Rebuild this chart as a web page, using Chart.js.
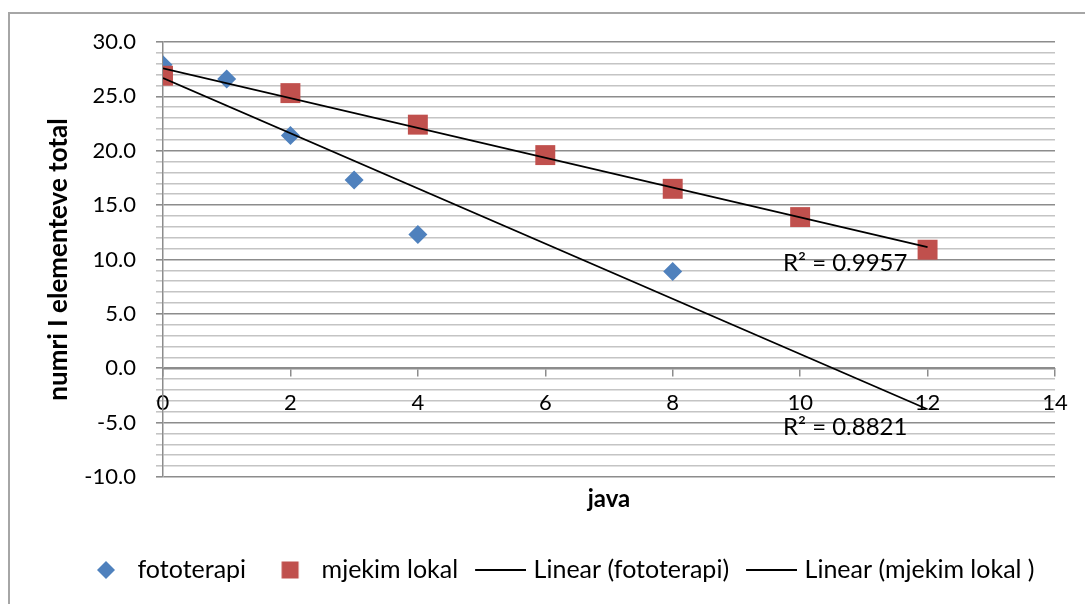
<!DOCTYPE html>
<html>
<head>
<meta charset="utf-8">
<title>numri I elementeve total</title>
<script src="https://cdn.jsdelivr.net/npm/chart.js@4/dist/chart.umd.min.js"></script>
<style>
  html, body { margin: 0; padding: 0; background: #ffffff; overflow: hidden; }
  #wrap { position: relative; width: 1085px; height: 604px; }
  #frame {
    position: absolute; left: 8px; top: 12px; width: 1200px; height: 800px;
    border: 2px solid #a6a6a6; pointer-events: none;
  }
  canvas { position: absolute; left: 0; top: 0; }
</style>
</head>
<body>
<div id="wrap">
  <canvas id="chart" width="1085" height="604"></canvas>
  <div id="frame"></div>
</div>
<script>
// Weeks (java) and total element counts for each treatment
const weeksFototerapi = [0, 1, 2, 3, 4, 8];
const fototerapi      = [27.9, 26.6, 21.4, 17.3, 12.3, 8.9];

const weeksLokal = [0, 2, 4, 6, 8, 10, 12];
const mjekimLokal = [26.9, 25.3, 22.4, 19.6, 16.5, 13.9, 10.9];

// Range covered by the linear trend lines
const trendSpan = [0, 12];

const seriesNames = ['fototerapi', 'mjekim lokal', 'Linear (fototerapi)', 'Linear (mjekim lokal )'];
const rSquaredTexts = ['R\u00B2 = 0.9957', 'R\u00B2 = 0.8821'];

const yTicksMin = -10, yTicksMax = 30;
const xTicksMin = 0, xTicksMax = 14;

const BLUE = '#4F81BD';
const RED = '#C0504D';
const FONT = 'Lato, "Open Sans", sans-serif';

// Ordinary least squares fit y = a + b x
function linearFit(xs, ys) {
  const n = xs.length;
  const mx = xs.reduce((s, v) => s + v, 0) / n;
  const my = ys.reduce((s, v) => s + v, 0) / n;
  let sxy = 0, sxx = 0;
  for (let i = 0; i < n; i++) {
    sxy += (xs[i] - mx) * (ys[i] - my);
    sxx += (xs[i] - mx) * (xs[i] - mx);
  }
  const b = sxy / sxx;
  return { a: my - b * mx, b };
}

function toPoints(xs, ys) { return xs.map((x, i) => ({ x, y: ys[i] })); }
function trendPoints(fit) { return trendSpan.map(x => ({ x, y: fit.a + fit.b * x })); }

const fitFoto = linearFit(weeksFototerapi, fototerapi);
const fitLokal = linearFit(weeksLokal, mjekimLokal);

// Small canvases used as legend symbols
function legendSymbol(kind, color) {
  const c = document.createElement('canvas');
  c.width = 62; c.height = 24;
  const g = c.getContext('2d');
  g.fillStyle = color; g.strokeStyle = color;
  const cx = 38, cy = 12;
  if (kind === 'diamond') {
    g.beginPath();
    g.moveTo(cx - 9, cy); g.lineTo(cx, cy - 9); g.lineTo(cx + 9, cy); g.lineTo(cx, cy + 9);
    g.closePath(); g.fill();
  } else if (kind === 'square') {
    g.fillRect(cx - 8.5, cy - 8.5, 17, 17);
  } else {
    g.lineWidth = 2;
    g.beginPath(); g.moveTo(11, cy); g.lineTo(62, cy); g.stroke();
  }
  return c;
}
const legendSymbols = [
  legendSymbol('diamond', BLUE),
  legendSymbol('square', RED),
  legendSymbol('line', '#000000'),
  legendSymbol('line', '#000000')
];

// Places the legend row from a fixed left edge
const LEGEND_PAD = 11;
const legendLeft = {
  id: 'legendLeft',
  afterLayout(chart) {
    const lg = chart.legend;
    if (!lg) return;
    const w = lg.right - lg.left;
    lg.left = 73 - LEGEND_PAD;
    lg.right = lg.left + w;
  }
};

// Coefficient of determination labels next to the trend lines
const rSquaredLabels = {
  id: 'rSquaredLabels',
  afterDatasetsDraw(chart, args, opts) {
    const { ctx, scales: { x, y } } = chart;
    ctx.save();
    ctx.font = '24px ' + FONT;
    ctx.fillStyle = '#000';
    ctx.textAlign = 'left';
    ctx.textBaseline = 'middle';
    opts.items.forEach(it => {
      ctx.fillText(it.text, x.getPixelForValue(it.x), y.getPixelForValue(it.y));
    });
    ctx.restore();
  }
};

function draw() {
  Chart.defaults.font.family = FONT;
  Chart.defaults.color = '#000';

  new Chart(document.getElementById('chart'), {
    type: 'scatter',
    data: {
      datasets: [
        {
          label: seriesNames[0],
          data: toPoints(weeksFototerapi, fototerapi),
          pointStyle: 'rectRot',
          pointRadius: 9.5,
          pointHoverRadius: 9.5,
          backgroundColor: BLUE,
          borderWidth: 0,
          order: 2
        },
        {
          label: seriesNames[1],
          data: toPoints(weeksLokal, mjekimLokal),
          pointStyle: 'rect',
          pointRadius: 14.1,
          pointHoverRadius: 14.1,
          backgroundColor: RED,
          borderWidth: 0,
          order: 1
        },
        {
          label: seriesNames[2],
          data: trendPoints(fitFoto),
          showLine: true,
          borderColor: '#000',
          borderWidth: 1.8,
          pointRadius: 0,
          fill: false,
          order: 0
        },
        {
          label: seriesNames[3],
          data: trendPoints(fitLokal),
          showLine: true,
          borderColor: '#000',
          borderWidth: 1.8,
          pointRadius: 0,
          fill: false,
          order: 0
        }
      ]
    },
    options: {
      responsive: false,
      animation: false,
      devicePixelRatio: 1,
      layout: { padding: { top: 42, right: 30, bottom: 11.5, left: 0 } },
      scales: {
        x: {
          type: 'linear',
          position: { y: 0 },
          min: xTicksMin,
          max: xTicksMax,
          ticks: { stepSize: 2, autoSkip: false, padding: 14, font: { size: 22 }, color: '#000', maxRotation: 0 },
          grid: { drawOnChartArea: false, drawTicks: true, tickLength: 7, color: '#8c8c8c', lineWidth: 1.5 },
          border: { display: true, color: '#8c8c8c', width: 1.5 }
        },
        y: {
          type: 'linear',
          min: yTicksMin,
          max: yTicksMax,
          afterFit(scale) { scale.width = 163; },
          ticks: {
            stepSize: 1,
            autoSkip: false,
            padding: 20,
            font: { size: 22 },
            color: '#000',
            callback: v => (v % 5 === 0 ? v.toFixed(1) : '')
          },
          grid: {
            drawTicks: true,
            tickLength: 7,
            lineWidth: 1.6,
            color: c => (c.tick && c.tick.value % 5 === 0 ? '#8c8c8c' : '#c4c4c4')
          },
          border: { display: true, color: '#8c8c8c', width: 1.5 },
          title: {
            display: true,
            text: 'numri I elementeve total',
            font: { size: 26, weight: 'bold' },
            color: '#000',
            padding: { top: 43.4, bottom: 0 }
          }
        }
      },
      plugins: {
        tooltip: { enabled: false },
        title: {
          display: true,
          text: 'java',
          position: 'bottom',
          fullSize: false,
          weight: 500,
          color: '#000',
          font: { size: 24, weight: 'bold' },
          padding: { top: 7.6, bottom: 33.1 }
        },
        legend: {
          position: 'bottom',
          align: 'start',
          labels: {
            usePointStyle: true,
            pointStyleWidth: 52,
            padding: LEGEND_PAD,
            color: '#000',
            font: { size: 25 },
            generateLabels: () => seriesNames.map((name, i) => ({
              text: name,
              pointStyle: legendSymbols[i],
              fillStyle: 'transparent',
              strokeStyle: 'transparent',
              lineWidth: 0,
              hidden: false,
              datasetIndex: i,
              fontColor: '#000'
            }))
          }
        },
        rSquaredLabels: {
          items: [
            { text: rSquaredTexts[0], x: 9.73, y: 9.67 },
            { text: rSquaredTexts[1], x: 9.73, y: -5.4 }
          ]
        }
      }
    },
    plugins: [legendLeft, rSquaredLabels]
  });
}

if (document.fonts && document.fonts.load) {
  Promise.all([
    document.fonts.load('22px Lato'),
    document.fonts.load('bold 24px Lato')
  ]).then(draw, draw);
} else {
  draw();
}
</script>
</body>
</html>
